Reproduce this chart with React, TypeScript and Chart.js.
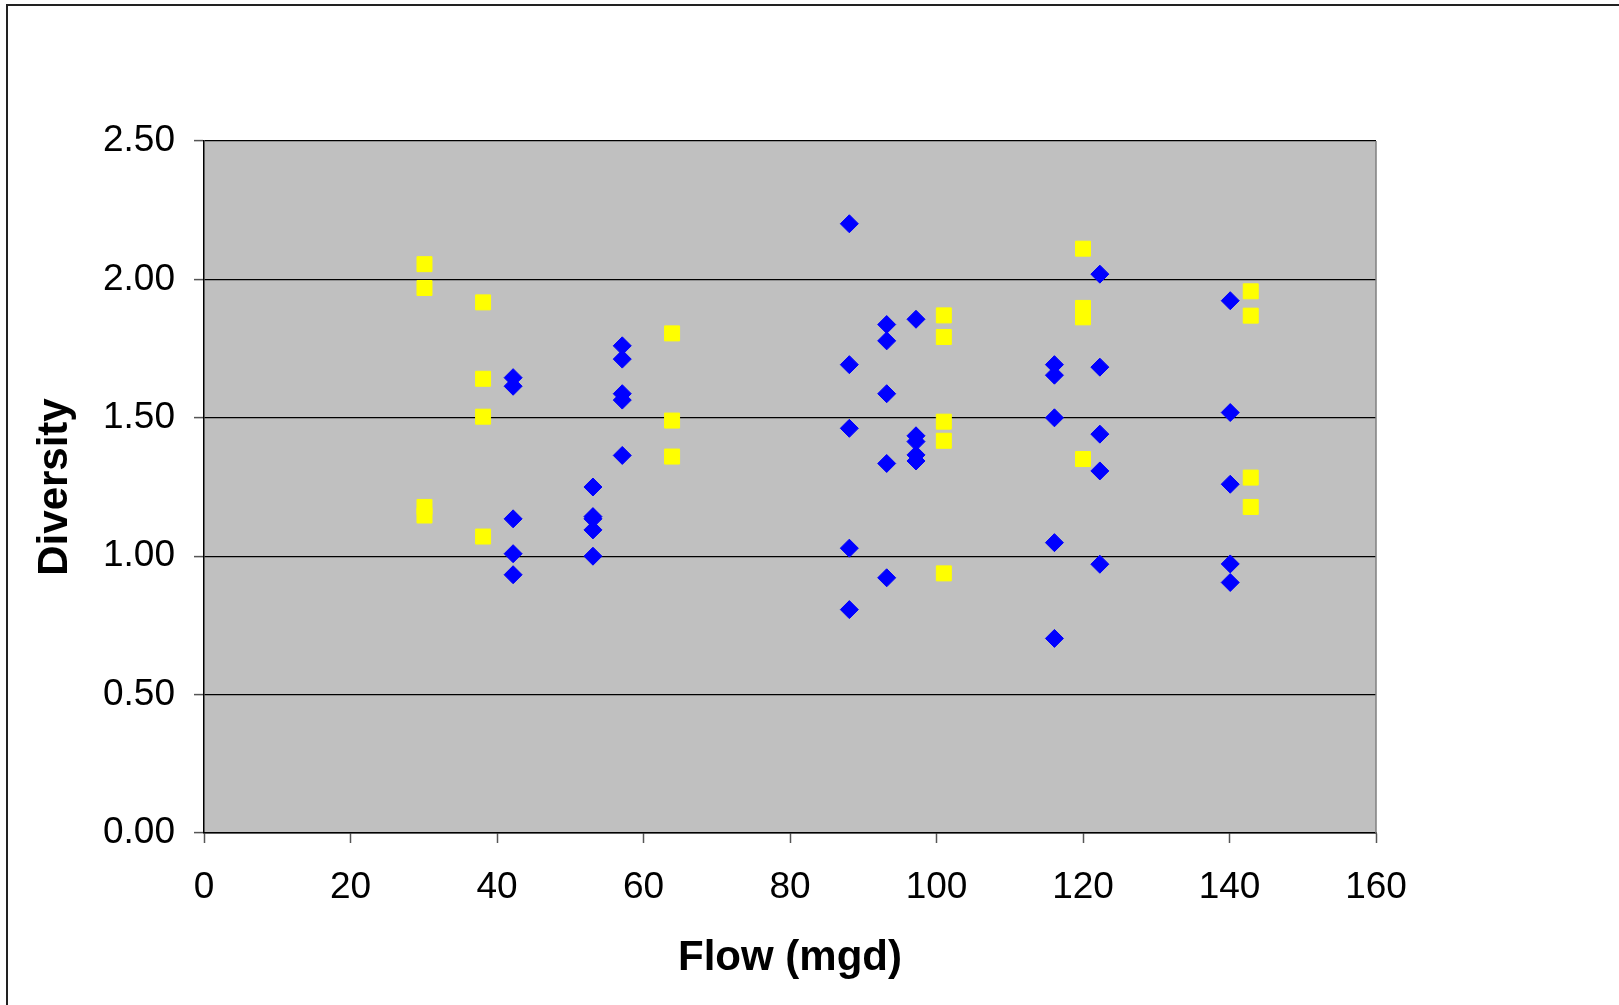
import React, { useEffect, useRef } from "react";
import { Chart, registerables } from "chart.js";

Chart.register(...registerables);

// Blue diamonds
const blueFlow = [
  42.2, 42.2, 42.2, 42.2, 42.2,
  53.1, 53.1, 53.1, 53.1, 53.1,
  57.1, 57.1, 57.1, 57.1, 57.1,
  88.1, 88.1, 88.1, 88.1, 88.1,
  93.2, 93.2, 93.2, 93.2, 93.2,
  97.2, 97.2, 97.2, 97.2, 97.2,
  116.1, 116.1, 116.1, 116.1, 116.1,
  122.3, 122.3, 122.3, 122.3, 122.3,
  140.1, 140.1, 140.1, 140.1, 140.1,
];
const blueDiversity = [
  1.645, 1.614, 1.135, 1.009, 0.933,
  1.25, 1.143, 1.135, 1.095, 1.0,
  1.76, 1.712, 1.587, 1.564, 1.364,
  2.201, 1.692, 1.462, 1.029, 0.807,
  1.837, 1.778, 1.587, 1.335, 0.922,
  1.856, 1.435, 1.414, 1.366, 1.344,
  1.692, 1.654, 1.5, 1.049, 0.703,
  2.019, 1.683, 1.441, 1.308, 0.971,
  1.923, 1.519, 1.26, 0.972, 0.905,
];

// Yellow squares
const yellowFlow = [
  30.1, 30.1, 30.1, 30.1,
  38.1, 38.1, 38.1, 38.1,
  63.9, 63.9, 63.9,
  101, 101, 101, 101, 101,
  120, 120, 120, 120,
  142.9, 142.9, 142.9, 142.9,
];
const yellowDiversity = [
  2.055, 1.969, 1.178, 1.147,
  1.917, 1.641, 1.504, 1.071,
  1.805, 1.49, 1.36,
  1.87, 1.792, 1.486, 1.417, 0.938,
  2.111, 1.897, 1.863, 1.351,
  1.957, 1.869, 1.284, 1.178,
];

const xTitle = "Flow (mgd)";
const yTitle = "Diversity";

const FONT = "'Liberation Sans', Arial, sans-serif";

const plotBg = {
  id: "plotBg",
  beforeDraw(chart: any) {
    const { ctx, chartArea } = chart;
    ctx.save();
    // outer chart border (extends beyond the viewport on right/bottom)
    ctx.strokeStyle = "#222";
    ctx.lineWidth = 2;
    ctx.strokeRect(7, 5, 3000, 3000);
    // plot area background
    ctx.fillStyle = "#C0C0C0";
    ctx.fillRect(
      chartArea.left,
      chartArea.top,
      chartArea.right - chartArea.left,
      chartArea.bottom - chartArea.top
    );
    ctx.restore();
  },
  beforeDatasetsDraw(chart: any) {
    const { ctx, chartArea } = chart;
    ctx.save();
    ctx.strokeStyle = "#808080";
    ctx.lineWidth = 1.5;
    ctx.beginPath();
    ctx.moveTo(chartArea.right, chartArea.top);
    ctx.lineTo(chartArea.right, chartArea.bottom);
    ctx.stroke();
    ctx.restore();
  },
};

export default function App() {
  const ref = useRef<HTMLCanvasElement | null>(null);

  useEffect(() => {
    if (!ref.current) return;
    const blue = blueFlow.map((x, i) => ({ x, y: blueDiversity[i] }));
    const yellow = yellowFlow.map((x, i) => ({ x, y: yellowDiversity[i] }));
    const chart = new Chart(ref.current, {
      type: "scatter",
      data: {
        datasets: [
          {
            label: "Series 1",
            data: blue,
            pointStyle: "rectRot",
            pointRadius: 9,
            backgroundColor: "#0000FF",
            borderColor: "#0000FF",
            borderWidth: 1,
          },
          {
            label: "Series 2",
            data: yellow,
            pointStyle: "rect",
            pointRadius: 10.6,
            backgroundColor: "#FFFF00",
            borderColor: "#FFFF00",
            borderWidth: 1,
          },
        ],
      },
      options: {
        responsive: false,
        animation: false,
        devicePixelRatio: 1,
        layout: { padding: { left: 0, top: 141, right: 243, bottom: 0 } },
        plugins: {
          legend: { display: false },
          tooltip: { enabled: false },
        },
        scales: {
          x: {
            type: "linear",
            min: 0,
            max: 160,
            afterFit: (s: any) => {
              s.height = 172;
            },
            ticks: {
              stepSize: 20,
              color: "#000",
              padding: 23,
              font: { family: FONT, size: 37 },
            },
            grid: {
              drawOnChartArea: false,
              drawTicks: true,
              tickLength: 10,
              tickColor: "#555",
              tickWidth: 1.5,
            },
            border: { display: true, color: "#000", width: 1.5 },
            title: {
              display: true,
              text: xTitle,
              color: "#000",
              font: { family: FONT, size: 42, weight: "bold" },
              padding: { top: 0, bottom: 21 },
            },
          },
          y: {
            type: "linear",
            min: 0,
            max: 2.5,
            afterFit: (s: any) => {
              s.width = 204;
            },
            ticks: {
              stepSize: 0.5,
              color: "#000",
              padding: 19,
              font: { family: FONT, size: 37 },
              callback: (v: any) => Number(v).toFixed(2),
            },
            grid: {
              color: "#000",
              lineWidth: 1.2,
              drawTicks: true,
              tickLength: 10,
              tickColor: "#555",
              tickWidth: 1.5,
            },
            border: { display: true, color: "#000", width: 1.5 },
            title: {
              display: true,
              text: yTitle,
              color: "#000",
              font: { family: FONT, size: 42, weight: "bold" },
              padding: { top: 30, bottom: 0 },
            },
          },
        },
      },
      plugins: [plotBg],
    });
    return () => chart.destroy();
  }, []);

  return (
    <canvas
      ref={ref}
      width={1619}
      height={1005}
      style={{ position: "absolute", left: 0, top: 0, display: "block", width: 1619, height: 1005 }}
    />
  );
}
